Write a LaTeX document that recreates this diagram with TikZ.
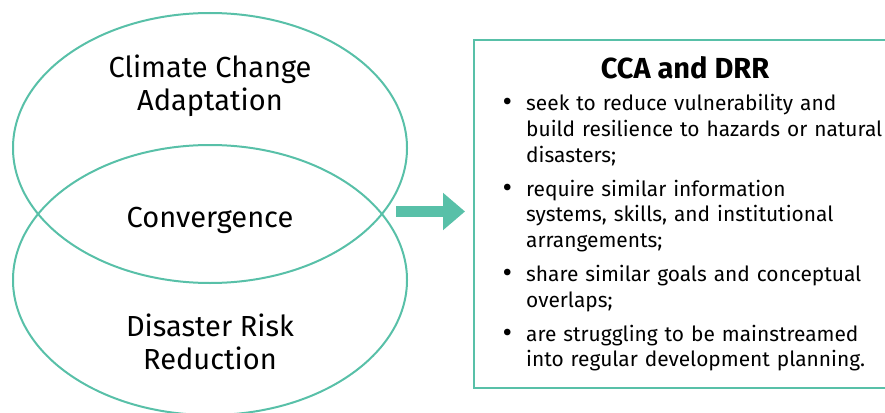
\documentclass[tikz,border=0pt]{standalone}
\usepackage{fontspec}
\setmainfont{Fira Sans}
\usepackage{enumitem}
\usetikzlibrary{positioning,shapes.geometric,arrows.meta}
\definecolor{vert}{HTML}{58C0A8}
\begin{document}
\begin{tikzpicture}[x=1pt,y=-1pt]
% Styles
\tikzstyle{contour}=[draw=vert,line width=2pt]
\tikzstyle{bulle}=[contour,ellipse,minimum width=394pt,minimum height=270pt]
\tikzstyle{texte}=[font=\fontsize{29}{33}\selectfont,align=center]
\tikzstyle{titre}=[font=\fontsize{29}{32}\selectfont\bfseries]
\tikzstyle{liste}=[font=\fontsize{20.9}{25.6}\selectfont,text width=430pt,inner sep=0pt,anchor=north west]
\tikzstyle{fleche}=[-{Triangle[width=36pt,length=22pt]},vert,line width=11pt]
% Dimensions
\def\Lrg{885}
\def\Ht{412}
\useasboundingbox (0,0) rectangle (\Lrg,\Ht);
\clip (0,0) rectangle (\Lrg,\Ht);
% Cercles
\node[bulle] (cca) at (210,148) {};
\node[bulle] (drr) at (210,280) {};
\node[texte] (tcca) at (210,86) {Climate Change\\Adaptation};
\node[texte] (tconv) at (210,220) {Convergence};
\node[texte] (tdrr) at (210,342) {Disaster Risk\\Reduction};
% Cadre
\node[contour,minimum width=440pt,minimum height=348pt,anchor=north west] (boite) at (473,39) {};
\node[titre,anchor=base] (tboite) at (685,78) {CCA and DRR};
\node[liste] (points) at (505,85) {%
\begin{itemize}[leftmargin=21pt,labelsep=14pt,itemsep=8.5pt,topsep=0pt,parsep=0pt,partopsep=0pt,label={\raisebox{-1pt}{\scalebox{1.4}{\textbullet}}}]
\item seek to reduce vulnerability and\\ build resilience to hazards or natural\\ disasters;
\item require similar information\\ systems, skills, and institutional\\ arrangements;
\item share similar goals and conceptual\\ overlaps;
\item are struggling to be mainstreamed\\ into regular development planning.
\end{itemize}};
% Fleche
\coordinate (depart) at (396,211.5);
\draw[fleche] (depart) -- ([xshift=-8pt]boite.west |- depart);
\end{tikzpicture}
\end{document}
